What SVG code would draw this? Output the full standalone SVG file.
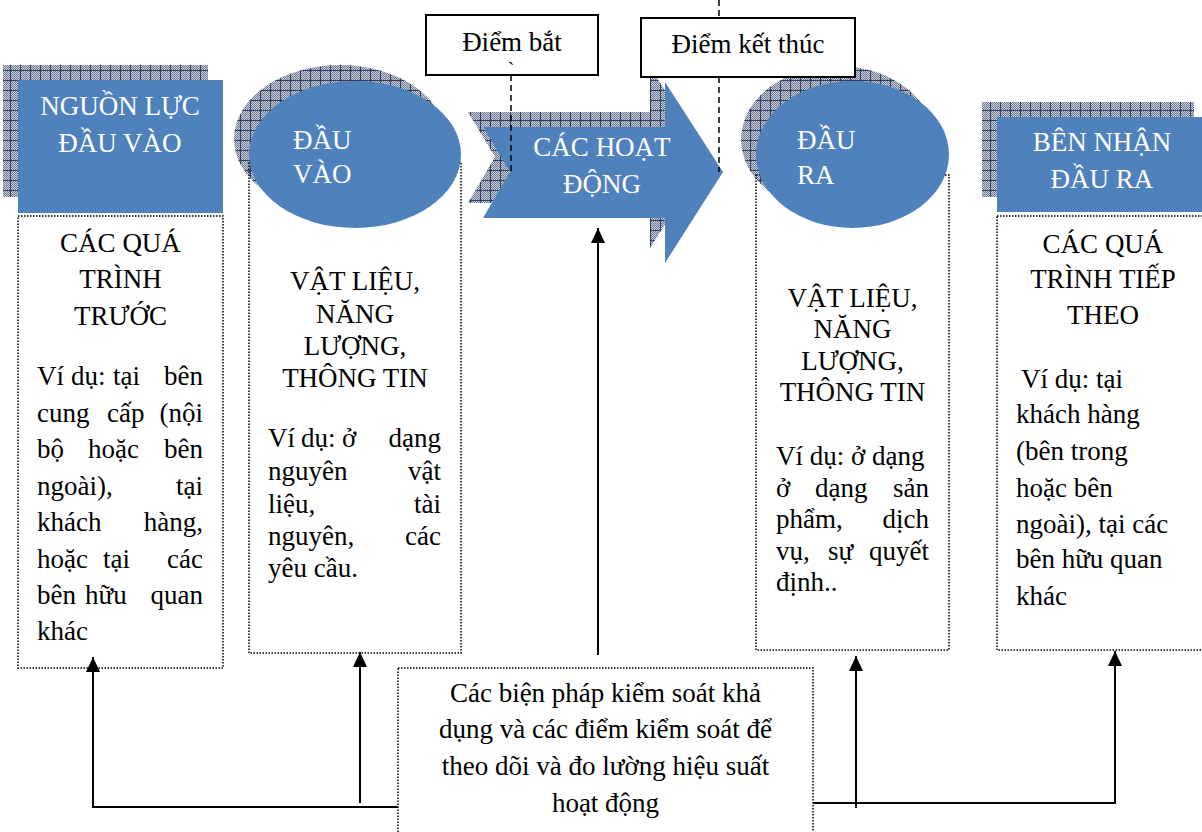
<svg xmlns="http://www.w3.org/2000/svg" width="1202" height="832" viewBox="0 0 1202 832">
<style>
text{font-family:"Liberation Serif","Times New Roman",serif;font-size:27px;fill:#000}
.w{fill:#fff}
.c{text-anchor:middle}
.e{text-anchor:end}
.blue{fill:#4F81BD}
.sh{fill:url(#grid)}
.dot{fill:none;stroke:#000;stroke-width:1.5;stroke-dasharray:1.5 1.5}
.dash{fill:none;stroke:#000;stroke-width:1.5;stroke-dasharray:6 4}
.tag{fill:#fff;stroke:#000;stroke-width:2}
.con{fill:none;stroke:#000;stroke-width:2;marker-end:url(#ah)}
</style>
<defs>
<pattern id="dither" width="2" height="2" patternUnits="userSpaceOnUse"><rect width="2" height="2" fill="#c9ced8"/><rect width="1" height="1" fill="#6f7a92"/><rect x="1" y="1" width="1" height="1" fill="#6f7a92"/></pattern>
<pattern id="grid" width="10" height="10" patternUnits="userSpaceOnUse"><rect width="10" height="10" fill="url(#dither)"/><path d="M0 0.5H10M0.5 0V10" stroke="#2f3f62" stroke-width="1"/></pattern>
<marker id="ah" viewBox="0 0 15 14" refX="15" refY="7" markerWidth="15" markerHeight="14" markerUnits="userSpaceOnUse" orient="auto"><path d="M0,0 L15,7 L0,14 z" fill="#000"/></marker>
</defs>
<rect width="1202" height="832" fill="#fff"/>

<g id="nguon-luc">
<rect class="sh" x="3" y="65" width="205" height="132"/>
<rect class="blue" x="18" y="80" width="205" height="133"/>
<text class="w c" x="120" y="115">NGUỒN LỰC</text>
<text class="w c" x="120" y="152">ĐẦU VÀO</text>
</g>
<g id="qua-trinh-truoc">
<rect class="dot" x="18" y="216" width="205" height="452"/>
<text class="c" x="120.5" y="252">CÁC QUÁ</text>
<text class="c" x="120.5" y="288">TRÌNH</text>
<text class="c" x="120.5" y="325">TRƯỚC</text>
<text x="37" y="385">Ví</text><text x="71" y="385">dụ:</text><text x="113" y="385">tại</text><text class="e" x="203" y="385">bên</text>
<text x="37" y="422">cung</text><text x="107" y="422">cấp</text><text class="e" x="203" y="422">(nội</text>
<text x="37" y="458">bộ</text><text x="88" y="458">hoặc</text><text class="e" x="203" y="458">bên</text>
<text x="37" y="495">ngoài),</text><text class="e" x="203" y="495">tại</text>
<text x="37" y="531">khách</text><text class="e" x="203" y="531">hàng,</text>
<text x="37" y="568">hoặc</text><text x="103" y="568">tại</text><text class="e" x="203" y="568">các</text>
<text x="37" y="604">bên</text><text x="85" y="604">hữu</text><text class="e" x="203" y="604">quan</text>
<text x="37" y="640">khác</text>
</g>

<g id="dau-vao">
<ellipse class="sh" cx="340" cy="139" rx="106" ry="74"/>
<rect class="dot" x="249" y="162" width="212" height="491"/>
<ellipse class="blue" cx="355" cy="154.5" rx="106" ry="73.5"/>
<text class="w" x="293" y="149">ĐẦU</text>
<text class="w" x="293" y="183">VÀO</text>
<text class="c" x="355" y="290">VẬT LIỆU,</text>
<text class="c" x="355" y="323">NĂNG</text>
<text class="c" x="355" y="355">LƯỢNG,</text>
<text class="c" x="355" y="387">THÔNG TIN</text>
<text x="268" y="447">Ví</text><text x="301" y="447">dụ:</text><text x="342" y="447">ở</text><text class="e" x="441" y="447">dạng</text>
<text x="268" y="480">nguyên</text><text class="e" x="441" y="480">vật</text>
<text x="268" y="513">liệu,</text><text class="e" x="441" y="513">tài</text>
<text x="268" y="545">nguyên,</text><text class="e" x="441" y="545">các</text>
<text x="268" y="577">yêu cầu.</text>
</g>

<g id="cac-hoat-dong">
<polygon class="sh" points="468,112 650,112 650,67 708,157 650,248 650,203 468,203 495,157"/>
<polygon class="blue" points="483,127 665,127 665,82 723,172 665,263 665,218 483,218 510,172"/>
<text class="w c" x="602" y="156">CÁC HOẠT</text>
<text class="w c" x="602" y="193">ĐỘNG</text>
</g>

<g id="dau-ra">
<ellipse class="sh" cx="837.5" cy="139.5" rx="96.5" ry="73.5"/>
<rect class="dot" x="756" y="175" width="193" height="475"/>
<ellipse class="blue" cx="852.5" cy="154.5" rx="96.5" ry="73.5"/>
<text class="w" x="797" y="149">ĐẦU</text>
<text class="w" x="797" y="184">RA</text>
<text class="c" x="852.5" y="307">VẬT LIỆU,</text>
<text class="c" x="852.5" y="338">NĂNG</text>
<text class="c" x="852.5" y="370">LƯỢNG,</text>
<text class="c" x="852.5" y="401">THÔNG TIN</text>
<text x="776" y="465">Ví dụ: ở dạng</text>
<text x="776" y="497">ở</text><text x="815" y="497">dạng</text><text class="e" x="929" y="497">sản</text>
<text x="776" y="528">phẩm,</text><text class="e" x="929" y="528">dịch</text>
<text x="776" y="560">vụ,</text><text x="828" y="560">sự</text><text class="e" x="929" y="560">quyết</text>
<text x="776" y="591">định..</text>
</g>

<g id="ben-nhan">
<rect class="sh" x="982" y="102" width="212" height="95"/>
<rect class="blue" x="997" y="117" width="212" height="95"/>
<text class="w c" x="1102" y="151">BÊN NHẬN</text>
<text class="w c" x="1102" y="188">ĐẦU RA</text>
</g>
<g id="qua-trinh-tiep-theo">
<rect class="dot" x="997" y="216" width="212" height="434"/>
<text class="c" x="1103" y="253">CÁC QUÁ</text>
<text class="c" x="1103" y="288">TRÌNH TIẾP</text>
<text class="c" x="1103" y="324">THEO</text>
<text x="1021" y="388">Ví dụ: tại</text>
<text x="1016" y="423">khách hàng</text>
<text x="1016" y="460">(bên trong</text>
<text x="1016" y="497">hoặc bên</text>
<text x="1016" y="533">ngoài), tại các</text>
<text x="1016" y="568">bên hữu quan</text>
<text x="1016" y="605">khác</text>
</g>

<g id="diem-bat">
<rect class="tag" x="426" y="15" width="172" height="60"/>
<text class="c" x="512" y="51">Điểm bắt</text>
<text class="c" x="511" y="77" style="font-size:20px">`</text>
</g>
<g id="diem-ket-thuc">
<rect class="tag" x="641" y="18" width="214" height="59"/>
<text class="c" x="748" y="53">Điểm kết thúc</text>
</g>

<g id="bien-phap">
<rect class="dot" x="398" y="668" width="415" height="180"/>
<text class="c" x="605.5" y="702">Các biện pháp kiểm soát khả</text>
<text class="c" x="605.5" y="738">dụng và các điểm kiểm soát để</text>
<text class="c" x="605.5" y="775">theo dõi và đo lường hiệu suất</text>
<text class="c" x="605.5" y="812">hoạt động</text>
</g>

<g id="connectors">
<path class="dash" d="M511,75 V173"/>
<path class="dash" d="M719,0 V18 M719,77 V172"/>
<path class="con" d="M598,655 V228"/>
<path class="con" d="M398,807 H93 V657"/>
<path class="con" d="M360,803 V652"/>
<path class="con" d="M813,803 H1115 V651"/>
<path class="con" d="M856,808 V656"/>
</g>
</svg>
